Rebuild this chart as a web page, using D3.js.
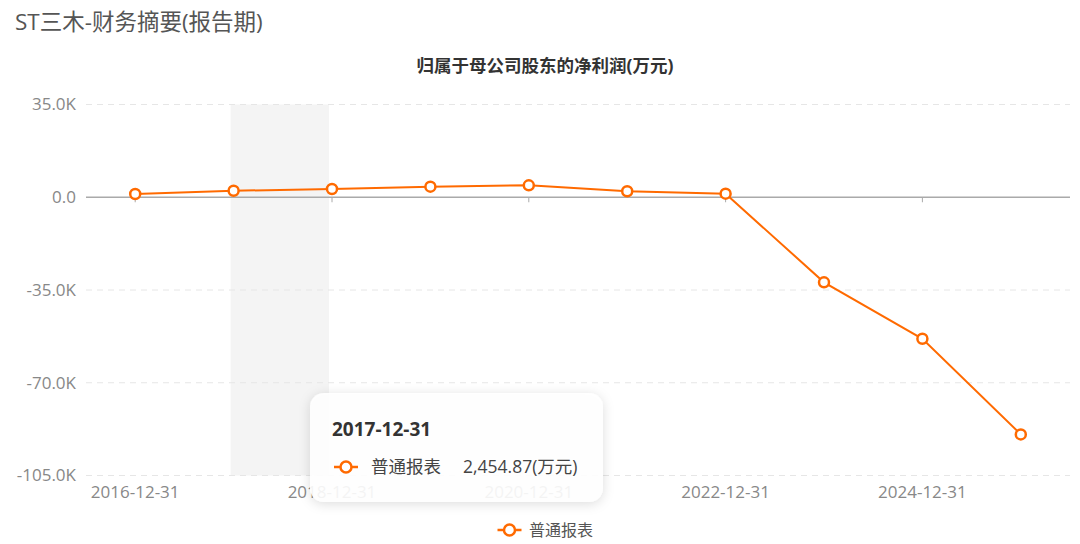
<!DOCTYPE html>
<html><head><meta charset="utf-8">
<script src="https://cdn.jsdelivr.net/npm/d3@7/dist/d3.min.js"></script>
<style>
body{margin:0;background:#fff;}
svg text{font-family:"Open Sans","Noto Sans CJK SC",sans-serif;}
</style></head>
<body>
<svg id="c" width="1080" height="544"></svg>
<script>
const pageTitle = "ST三木-财务摘要(报告期)";
const chartTitle = "归属于母公司股东的净利润(万元)";
const seriesName = "普通报表";
const unit = "(万元)";
const categories = ["2016-12-31","2017-12-31","2018-12-31","2019-12-31","2020-12-31","2021-12-31","2022-12-31","2023-12-31","2024-12-31","2025-12-31"];
const values = [1230, 2454.87, 3110, 3980, 4500, 2250, 1340, -32100, -53400, -89500];
const yTicks = [35000, 0, -35000, -70000, -105000];
const yTickLabels = ["35.0K","0.0","-35.0K","-70.0K","-105.0K"];
const tooltipIndex = 1;

(function(){
const svg = d3.select("#c");
const color = "#FF6A00";
const pL = 86, pR = 1070, pT = 104.5, pB = 475.5;

const x = d3.scaleBand().domain(categories).range([pL, pR]);
const xc = d => x(d) + x.bandwidth()/2;
const y = d3.scaleLinear().domain([-105000, 35000]).range([pB, pT]);

svg.append("text").attr("x",15).attr("y",30).attr("font-size",22.5).attr("fill","#555").text(pageTitle);
svg.append("text").attr("x",545).attr("y",72).attr("text-anchor","middle").attr("font-size",17.5).attr("font-weight","bold").attr("fill","#333").text(chartTitle);

svg.append("rect").attr("x", xc(categories[tooltipIndex]) - 3).attr("y", pT)
  .attr("width", x.bandwidth()).attr("height", pB - pT).attr("fill","#f4f4f4");

svg.append("g").selectAll("line").data(yTicks.filter(v=>v!==0)).join("line")
  .attr("x1",pL).attr("x2",pR).attr("y1",d=>y(d)).attr("y2",d=>y(d))
  .attr("stroke","#e6e6e6").attr("stroke-dasharray","6,5").attr("stroke-width",1);

svg.append("g").selectAll("text").data(yTicks).join("text")
  .attr("x",76).attr("y",d=>y(d)).attr("dy","0.35em").attr("text-anchor","end")
  .attr("font-size",17).attr("fill","#888").text((d,i)=>yTickLabels[i]);

svg.append("line").attr("x1",pL).attr("x2",pR).attr("y1",y(0)).attr("y2",y(0))
  .attr("stroke","#aaa").attr("stroke-width",1.5);
const labeled = categories.filter((d,i)=>i%2===0);
svg.append("g").selectAll("line").data(labeled).join("line")
  .attr("x1",d=>xc(d)).attr("x2",d=>xc(d)).attr("y1",y(0)).attr("y2",y(0)+5)
  .attr("stroke","#aaa").attr("stroke-width",1);

svg.append("g").selectAll("text").data(labeled).join("text")
  .attr("x",d=>xc(d)).attr("y",492).attr("dy","0.35em").attr("text-anchor","middle")
  .attr("font-size",17).attr("fill","#888").text(d=>d);

const line = d3.line().x((d,i)=>xc(categories[i])).y(d=>y(d));
svg.append("path").datum(values).attr("d",line).attr("fill","none").attr("stroke",color).attr("stroke-width",2);
svg.append("g").selectAll("circle").data(values).join("circle")
  .attr("cx",(d,i)=>xc(categories[i])).attr("cy",d=>y(d)).attr("r",5)
  .attr("fill","#fff").attr("stroke",color).attr("stroke-width",2.5);

function icon(g, cx, cy){
  g.append("line").attr("x1",cx-12).attr("x2",cx+12).attr("y1",cy).attr("y2",cy).attr("stroke",color).attr("stroke-width",2.5);
  g.append("circle").attr("cx",cx).attr("cy",cy).attr("r",5.5).attr("fill","#fff").attr("stroke",color).attr("stroke-width",2.5);
}
const lg = svg.append("g");
icon(lg, 509.5, 530);
lg.append("text").attr("x",529).attr("y",530).attr("dy","0.35em").attr("font-size",16).attr("fill","#555").text(seriesName);

const defs = svg.append("defs");
const f = defs.append("filter").attr("id","sh").attr("x","-20%").attr("y","-30%").attr("width","140%").attr("height","160%");
f.append("feDropShadow").attr("dx",0).attr("dy",2).attr("stdDeviation",6).attr("flood-color","#000").attr("flood-opacity",0.15);
const tg = svg.append("g");
tg.append("rect").attr("x",310).attr("y",393).attr("width",293).attr("height",109).attr("rx",14)
  .attr("fill","#fff").attr("fill-opacity",0.9).attr("filter","url(#sh)");
tg.append("text").attr("x",332).attr("y",429).attr("dy","0.35em").attr("font-size",19).attr("font-weight","bold").attr("fill","#333").text(categories[tooltipIndex]);
icon(tg, 346, 467);
tg.append("text").attr("x",371).attr("y",467).attr("dy","0.35em").attr("font-size",17.5).attr("fill","#444").text(seriesName);
tg.append("text").attr("x",463).attr("y",467).attr("dy","0.35em").attr("font-size",17.5).attr("fill","#444")
  .text(d3.format(",.2f")(values[tooltipIndex]) + unit);
})();
</script>
</body></html>
